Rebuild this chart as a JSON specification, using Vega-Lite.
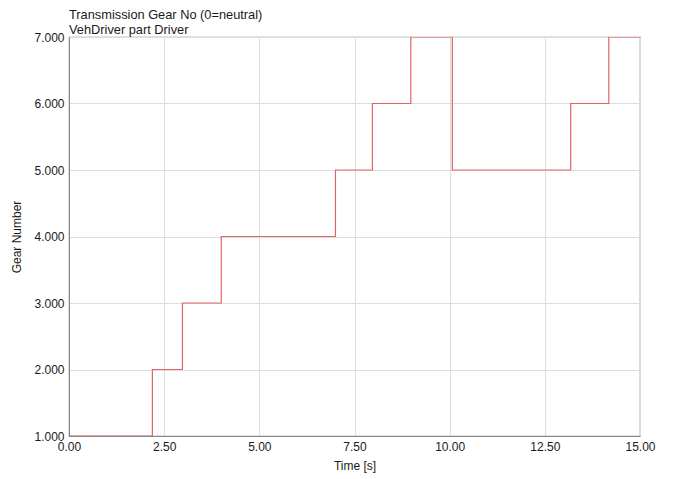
{
  "$schema": "https://vega.github.io/schema/vega-lite/v6.json",
  "width": 571,
  "height": 399,
  "autosize": {"type": "none"},
  "padding": {"left": 69, "top": 37, "right": 33, "bottom": 43},
  "background": "white",
  "title": {
    "text": ["Transmission Gear No (0=neutral)", "VehDriver part Driver"],
    "anchor": "start",
    "frame": "group",
    "font": "Liberation Sans",
    "fontSize": 12.8,
    "fontWeight": "normal",
    "color": "#1a1a1a",
    "lineHeight": 15.5,
    "offset": -6
  },
  "config": {
    "view": {"stroke": "#888", "strokeWidth": 1.2},
    "axis": {
      "labelFont": "Liberation Sans",
      "titleFont": "Liberation Sans",
      "labelFontSize": 12,
      "titleFontSize": 12,
      "titleFontWeight": "normal",
      "labelColor": "#1a1a1a",
      "titleColor": "#1a1a1a",
      "gridColor": "#dddddd",
      "gridWidth": 1,
      "domainColor": "#888",
      "ticks": false,
      "labelPadding": 5,
      "labelFlush": false
    }
  },
  "data": {
    "values": [
      {"time": 0.0, "gear": 1},
      {"time": 2.19, "gear": 2},
      {"time": 2.98, "gear": 3},
      {"time": 4.0, "gear": 4},
      {"time": 7.0, "gear": 5},
      {"time": 7.97, "gear": 6},
      {"time": 8.98, "gear": 7},
      {"time": 10.07, "gear": 5},
      {"time": 13.18, "gear": 6},
      {"time": 14.18, "gear": 7},
      {"time": 15.0, "gear": 7}
    ]
  },
  "mark": {"type": "line", "interpolate": "step-after", "color": "#e26464", "strokeWidth": 1.2, "clip": true},
  "encoding": {
    "x": {
      "field": "time",
      "type": "quantitative",
      "title": "Time [s]",
      "scale": {"domain": [0, 15], "nice": false},
      "axis": {"values": [0, 2.5, 5, 7.5, 10, 12.5, 15], "format": ".2f", "titlePadding": 8}
    },
    "y": {
      "field": "gear",
      "type": "quantitative",
      "title": "Gear Number",
      "scale": {"domain": [1, 7], "nice": false, "zero": false},
      "axis": {"values": [1, 2, 3, 4, 5, 6, 7], "format": ".3f", "titlePadding": 10}
    }
  }
}
